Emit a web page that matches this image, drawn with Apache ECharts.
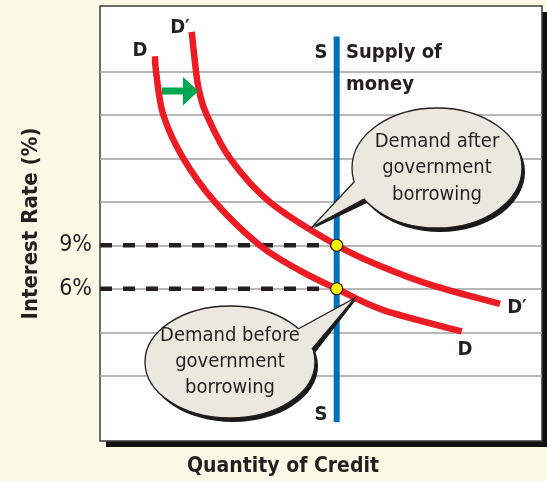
<!DOCTYPE html>
<html><head><meta charset="utf-8">
<script src="https://cdn.jsdelivr.net/npm/echarts@6/dist/echarts.min.js"></script>
<style>html,body{margin:0;padding:0;background:#fdf9e7;}#c{width:547px;height:481px;}</style>
</head><body><div id="c"></div>
<script>
// ---- data ----
const demandBeforeX = [12.44, 12.67, 14.32, 18.85, 26.02, 36.2, 45.25, 53.55, 64.1, 81.83];
const demandBeforeY = [22.04, 21.01, 17.99, 14.99, 11.97, 8.98, 7.25, 6.0, 4.53, 3.06];
const demandAfterX = [20.75, 21.72, 22.47, 24.14, 29.41, 38.46, 53.55, 64.1, 75.41, 90.5];
const demandAfterY = [23.72, 21.01, 19.58, 17.99, 14.99, 11.97, 9.0, 7.48, 6.21, 4.95];
const supplyX = 53.55;
const supplyYRange = [23.4, -3.2];
const equilibriumRates = [9, 6];
const gridRates = [0, 3, 6, 9, 12, 15, 18, 21];
const tickRates = [6, 9];

const FONT = "'Liberation Sans Narrow', 'DejaVu Sans Condensed', 'Open Sans', sans-serif";
const INK = '#231f20';
const RED = '#ed1c24';
const BLUE = '#0072bc';
const BUBBLE = '#ebe8df';

const zip = (xs, ys) => xs.map((x, i) => [x, ys[i]]);

const chart = echarts.init(document.getElementById('c'), null, {renderer: 'canvas'});

// smooth curve through data points (converted by the axes)
function curveSeries(name, pts, z) {
  return {
    type: 'custom', name: name, silent: true, z: z,
    data: pts,
    renderItem: function (params, api) {
      if (params.dataIndex !== 0) return null;
      const p = pts.map(q => api.coord(q));
      let d = 'M' + p[0][0] + ' ' + p[0][1];
      for (let i = 0; i < p.length - 1; i++) {
        const p0 = p[i - 1] || p[i], p1 = p[i], p2 = p[i + 1], p3 = p[i + 2] || p[i + 1];
        const c1 = [p1[0] + (p2[0] - p0[0]) / 6, p1[1] + (p2[1] - p0[1]) / 6];
        const c2 = [p2[0] - (p3[0] - p1[0]) / 6, p2[1] - (p3[1] - p1[1]) / 6];
        d += ' C' + c1[0] + ' ' + c1[1] + ' ' + c2[0] + ' ' + c2[1] + ' ' + p2[0] + ' ' + p2[1];
      }
      return {type: 'path', shape: {pathData: d}, style: {stroke: RED, lineWidth: 6.5, fill: 'none', lineCap: 'butt'}};
    }
  };
}

function bubble(cx, cy, rx, ry, base1, tip, base2, inner, lines, lineH) {
  const els = [];
  const off = [3, 4];
  els.push({type: 'ellipse', shape: {cx: cx + off[0], cy: cy + off[1], rx: rx, ry: ry}, style: {fill: '#1a1a1a'}, z: 50});
  els.push({type: 'polygon', shape: {points: [[base1[0] + off[0], base1[1] + off[1]], [tip[0] + off[0] * 0.4, tip[1] + off[1] * 0.4], [base2[0] + off[0], base2[1] + off[1]], inner]}, style: {fill: '#1a1a1a'}, z: 50});
  els.push({type: 'ellipse', shape: {cx: cx, cy: cy, rx: rx, ry: ry}, style: {fill: BUBBLE, stroke: INK, lineWidth: 1.3}, z: 51});
  els.push({type: 'polygon', shape: {points: [base1, tip, base2, inner]}, style: {fill: BUBBLE}, z: 52});
  els.push({type: 'polyline', shape: {points: [base1, tip, base2]}, style: {stroke: INK, lineWidth: 1.3, fill: null}, z: 53});
  const y0 = cy - (lines.length - 1) * lineH / 2;
  lines.forEach((t, i) => {
    els.push({type: 'text', x: cx, y: y0 + i * lineH, style: {text: t, font: '20px ' + FONT, fill: INK, align: 'center', verticalAlign: 'middle'}, z: 54});
  });
  return els;
}

const txt = (t, x, y, size, weight, align) => ({type: 'text', x: x, y: y, z: 60,
  style: {text: t, font: (weight || 'bold') + ' ' + size + 'px ' + FONT, fill: INK, align: align || 'center', verticalAlign: 'middle'}});

const graphics = [
  // drop shadow of the plot box
  {type: 'rect', shape: {x: 106, y: 12, width: 442, height: 435}, style: {fill: '#111'}, z: -10},
  // green shift arrow
  {type: 'polygon', shape: {points: [[162, 87.5], [183, 87.5], [183, 77], [198.5, 91], [183, 105.5], [183, 94.5], [162, 94.5]]}, style: {fill: '#00a651'}, z: 40},
  txt('D', 140, 51, 20),
  txt('D\u2032', 180, 28, 20),
  txt('S', 321, 53, 20),
  txt('Supply of', 346, 53, 20, 'bold', 'left'),
  txt('money', 346, 85, 20, 'bold', 'left'),
  txt('S', 321, 415, 20),
  txt('D\u2032', 517, 308, 20),
  txt('D', 465, 350, 20),
  txt('Quantity of Credit', 283, 467, 21),
  ...bubble(437, 168, 85, 60, [354, 182], [312, 227], [364, 199], [370, 185], ['Demand after', 'government', 'borrowing'], 26.5),
  ...bubble(230, 362, 85, 56, [298, 329], [355, 298], [312, 349], [295, 345], ['Demand before', 'government', 'borrowing'], 26)
];

const series = [
  {
    type: 'line', name: 'grid', data: [], silent: true, z: 1,
    markLine: {silent: true, symbol: 'none', label: {show: false}, z: 1,
      lineStyle: {color: '#a0a0a0', width: 1.5, type: 'solid'},
      data: gridRates.map(v => ({yAxis: v}))}
  },
  ...equilibriumRates.map(r => ({
    type: 'line', data: [[0, r], [supplyX, r]], symbol: 'none', silent: true,
    lineStyle: {color: INK, width: 4.5, type: [12, 11]}, z: 3
  })),
  curveSeries('D', zip(demandBeforeX, demandBeforeY), 4),
  curveSeries("D'", zip(demandAfterX, demandAfterY), 4),
  {type: 'line', name: 'S', data: supplyYRange.map(y => [supplyX, y]), symbol: 'none', silent: true,
    lineStyle: {color: BLUE, width: 6, cap: 'butt'}, z: 5},
  {type: 'scatter', data: equilibriumRates.map(r => [supplyX, r]), symbolSize: 12, silent: true,
    itemStyle: {color: '#fff200', borderColor: INK, borderWidth: 1.2, opacity: 1}, z: 6}
];

chart.setOption({
  animation: false,
  backgroundColor: '#fdf9e7',
  grid: {left: 100, top: 6, right: 5, bottom: 40, show: true, backgroundColor: '#ffffff',
    borderColor: '#3a3a3a', borderWidth: 1.5},
  xAxis: {type: 'value', min: 0, max: 100, axisLine: {show: false}, axisTick: {show: false},
    axisLabel: {show: false}, splitLine: {show: false}},
  yAxis: {type: 'value', min: -4.5, max: 25.5,
    name: 'Interest Rate (%)', nameLocation: 'middle', nameRotate: 90, nameGap: 58,
    nameTextStyle: {fontFamily: FONT, fontWeight: 'bold', fontSize: 22, color: INK},
    axisLine: {show: false}, axisTick: {show: false}, splitLine: {show: false},
    axisLabel: {show: true, customValues: tickRates, formatter: '{value}%', margin: 8,
      fontFamily: FONT, fontSize: 23, color: INK}},
  series: series,
  graphic: graphics
});
</script></body></html>
